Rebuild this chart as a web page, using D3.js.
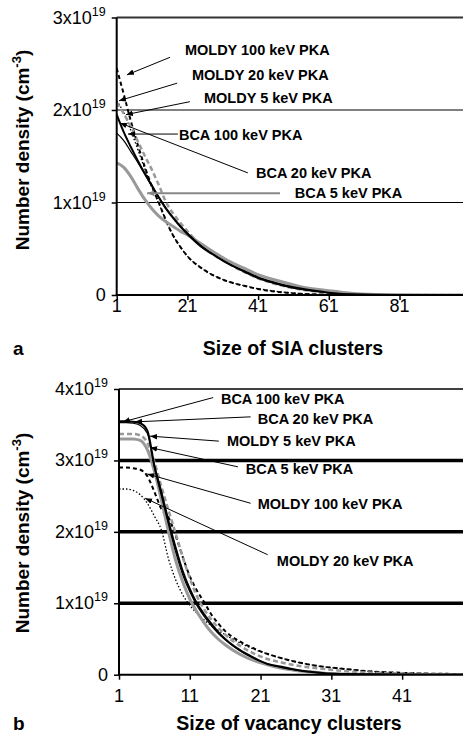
<!DOCTYPE html>
<html>
<head>
<meta charset="utf-8">
<script src="https://cdn.jsdelivr.net/npm/d3@7"></script>
<style>
  body { margin: 0; background: #fff; }
  svg { display: block; font-family: "Liberation Sans", Arial, sans-serif; }
</style>
</head>
<body>
<svg width="463" height="736"></svg>
<script>
// ---- panel a : SIA clusters (values in units of 1e19 cm^-3)
var sizeA = [1,3,5,7,9,11,13,15,17,19,21,25,29,33,37,41,45,49,53,57,61,65,70,80,90,99];
var moldy100A = [2.45,2.17,1.88,1.62,1.38,1.17,0.99,0.8,0.64,0.52,0.42,0.29,0.2,0.14,0.1,0.065,0.04,0.025,0.013,0.007,0.004,0.002,0.001,0,0,0];
var moldy20A  = [2.1,1.97,1.78,1.57,1.36,1.16,0.98,0.8,0.64,0.52,0.42,0.29,0.2,0.14,0.1,0.068,0.045,0.028,0.015,0.008,0.004,0.002,0.001,0,0,0];
var moldy5A   = [2.08,1.96,1.82,1.66,1.5,1.35,1.18,1.0,0.88,0.78,0.69,0.53,0.42,0.33,0.25,0.18,0.13,0.09,0.06,0.04,0.022,0.012,0.005,0.001,0,0];
var bca100A   = [1.95,1.76,1.6,1.45,1.31,1.18,1.05,0.93,0.83,0.74,0.66,0.52,0.42,0.33,0.26,0.19,0.14,0.1,0.07,0.045,0.025,0.012,0.005,0.001,0,0];
var bca20A    = [1.75,1.67,1.55,1.43,1.3,1.17,1.05,0.94,0.84,0.75,0.67,0.53,0.42,0.33,0.25,0.18,0.13,0.09,0.06,0.038,0.022,0.012,0.006,0.001,0,0];
var bca5A     = [1.43,1.38,1.28,1.15,1.03,0.93,0.85,0.79,0.74,0.69,0.65,0.55,0.45,0.36,0.29,0.22,0.17,0.13,0.09,0.065,0.045,0.028,0.012,0.002,0,0];
var xTicksA = [1,21,41,61,81];
var yTicksA = [0,1,2,3];

// ---- panel b : vacancy clusters
var sizeB = [1,2,3,4,5,6,7,8,9,10,11,12,13,14,15,16,18,20,22,24,26,28,30,33,36,40,45,50];
var bca100B   = [3.55,3.55,3.54,3.52,3.42,2.93,2.55,2.15,1.78,1.45,1.2,1.0,0.85,0.72,0.6,0.5,0.35,0.24,0.15,0.11,0.07,0.04,0.02,0.01,0.005,0.002,0,0];
var bca20B    = [3.53,3.53,3.52,3.49,3.38,2.9,2.5,2.1,1.72,1.4,1.16,0.97,0.82,0.69,0.58,0.49,0.34,0.23,0.15,0.1,0.065,0.038,0.02,0.01,0.005,0.002,0,0];
var moldy5B   = [3.37,3.37,3.37,3.35,3.25,2.98,2.63,2.3,1.98,1.65,1.35,1.1,0.92,0.78,0.66,0.56,0.41,0.3,0.22,0.17,0.13,0.1,0.08,0.05,0.03,0.02,0.01,0.005];
var bca5B     = [3.3,3.3,3.3,3.28,3.15,2.85,2.44,2.0,1.6,1.3,1.06,0.88,0.73,0.6,0.5,0.42,0.29,0.2,0.14,0.09,0.06,0.04,0.02,0.01,0.005,0,0,0];
var moldy100B = [2.9,2.9,2.89,2.87,2.78,2.56,2.32,2.2,1.95,1.65,1.38,1.18,1.02,0.85,0.72,0.61,0.47,0.37,0.29,0.23,0.18,0.14,0.11,0.08,0.05,0.03,0.015,0.01];
var moldy20B  = [2.6,2.6,2.58,2.52,2.4,2.22,2.02,1.62,1.33,1.12,0.97,0.86,0.77,0.69,0.62,0.56,0.45,0.36,0.29,0.23,0.18,0.14,0.11,0.08,0.05,0.03,0.015,0.01];
var xTicksB = [1,11,21,31,41];
var yTicksB = [0,1,2,3,4];

var names = ["MOLDY 100 keV PKA","MOLDY 20 keV PKA","MOLDY 5 keV PKA","BCA 100 keV PKA","BCA 20 keV PKA","BCA 5 keV PKA"];

// line look for each series
var look = {
  "MOLDY 100 keV PKA": {color:"#000", width:2,   dash:"4,3"},
  "MOLDY 20 keV PKA":  {color:"#000", width:1.3, dash:"1.5,2"},
  "MOLDY 5 keV PKA":   {color:"#999", width:2.5, dash:"5,3"},
  "BCA 100 keV PKA":   {color:"#000", width:2,   dash:null},
  "BCA 20 keV PKA":    {color:"#000", width:1.2, dash:null},
  "BCA 5 keV PKA":     {color:"#999", width:3,   dash:null}
};

// annotation: label pos, line start, arrow tip  (all in data units)
var notesA = [
  {t:"MOLDY 100 keV PKA", lx:20.3, ly:2.65, sx:16.1, sy:2.57, ex:3.9, ey:2.38},
  {t:"MOLDY 20 keV PKA",  lx:22.3, ly:2.38, sx:18.1, sy:2.29, ex:1.65, ey:2.10},
  {t:"MOLDY 5 keV PKA",   lx:25.7, ly:2.13, sx:21.7, sy:2.09, ex:3.6, ey:1.95},
  {t:"BCA 100 keV PKA",   lx:18.6, ly:1.73, sx:18.3, sy:1.74, ex:4.2, ey:1.74},
  {t:"BCA 20 keV PKA",    lx:40.4, ly:1.32, sx:38.1, sy:1.32, ex:1.9, ey:1.86},
  {t:"BCA 5 keV PKA",     lx:51.4, ly:1.10, sx:47.2, sy:1.10, ex:9.6, ey:1.10, gray:true}
];
var notesB = [
  {t:"BCA 100 keV PKA",   lx:15.4, ly:3.86, sx:14.3, sy:3.88, ex:1.56, ey:3.54},
  {t:"BCA 20 keV PKA",    lx:20.6, ly:3.58, sx:19.6, sy:3.61, ex:3.26, ey:3.54},
  {t:"MOLDY 5 keV PKA",   lx:16.25, ly:3.27, sx:15.1, sy:3.27, ex:5.4, ey:3.34},
  {t:"BCA 5 keV PKA",     lx:18.9, ly:2.88, sx:17.8, sy:2.91, ex:5.4, ey:3.18},
  {t:"MOLDY 100 keV PKA", lx:20.6, ly:2.39, sx:19.6, sy:2.40, ex:5.0, ey:2.81},
  {t:"MOLDY 20 keV PKA",  lx:23.3, ly:1.59, sx:22.0, sy:1.68, ex:4.7, ey:2.47}
];

var svg = d3.select("svg");
var defs = svg.append("defs");
["#000","#888"].forEach(function(c, i){
  defs.append("marker")
    .attr("id", "arr"+i)
    .attr("viewBox", "0 0 10 10")
    .attr("refX", 10).attr("refY", 5)
    .attr("markerWidth", 7).attr("markerHeight", 7)
    .attr("markerUnits", "userSpaceOnUse")
    .attr("orient", "auto")
    .append("path").attr("d", "M0,1L10,5L0,9Z").attr("fill", c);
});

function panel(cfg) {
  var x = d3.scaleLinear().domain(cfg.xDomain).range([cfg.left, cfg.right]);
  var y = d3.scaleLinear().domain([0, cfg.yMax]).range([cfg.bottom, cfg.top]);
  var g = svg.append("g");

  // grid lines
  cfg.yTicks.forEach(function(v){
    if (v == 0) return;
    g.append("line")
      .attr("x1", cfg.left).attr("x2", 463)
      .attr("y1", y(v)).attr("y2", y(v))
      .attr("stroke", v == cfg.yMax ? cfg.topColor : "#000")
      .attr("stroke-width", v == cfg.yMax ? cfg.topWidth : cfg.gridWidth);
  });

  // series
  var line = d3.line().curve(d3.curveMonotoneX)
    .x(function(d){ return x(d[0]); })
    .y(function(d){ return y(d[1]); });
  var clip = "clip" + cfg.id;
  defs.append("clipPath").attr("id", clip).append("rect")
    .attr("x", cfg.left).attr("y", cfg.top - 10)
    .attr("width", 463 - cfg.left).attr("height", cfg.bottom - cfg.top + 10);
  var order = [0,1,2,5,4,3];
  order.forEach(function(i){
    var n = names[i], s = look[n];
    var pts = cfg.sizes.map(function(v, k){ return [v, cfg.series[i][k]]; });
    g.append("path")
      .attr("clip-path", "url(#" + clip + ")")
      .attr("d", line(pts))
      .attr("fill", "none")
      .attr("stroke", s.color)
      .attr("stroke-width", s.width)
      .attr("stroke-dasharray", s.dash);
  });

  // axes
  var yAxis = d3.axisLeft(y).tickValues(cfg.yTicks).tickSize(5).tickFormat("");
  var ya = g.append("g").attr("transform", "translate(" + cfg.left + ",0)").call(yAxis);
  var xAxis = d3.axisBottom(x).tickValues(cfg.xTicks).tickSize(5).tickFormat("");
  var xa = g.append("g").attr("transform", "translate(0," + cfg.bottom + ")").call(xAxis);
  [ya, xa].forEach(function(a){
    a.select(".domain").remove();
    a.selectAll("line").attr("stroke", "#000").attr("stroke-width", 1.5);
  });
  g.append("line").attr("x1", cfg.left).attr("x2", cfg.left)
    .attr("y1", cfg.top).attr("y2", cfg.bottom + 1)
    .attr("stroke", "#000").attr("stroke-width", 2);
  g.append("line").attr("x1", cfg.left - 1).attr("x2", 463)
    .attr("y1", cfg.bottom).attr("y2", cfg.bottom)
    .attr("stroke", "#000").attr("stroke-width", 2);

  // y tick labels  (Nx10^19)
  cfg.yTicks.forEach(function(v){
    var t = g.append("text")
      .attr("x", cfg.left - 11).attr("y", y(v) + 6)
      .attr("text-anchor", "end")
      .attr("font-size", 18).attr("fill", "#000");
    if (v == 0) { t.text("0"); return; }
    t.append("tspan").text(v + "x10");
    t.append("tspan").attr("font-size", 12.5).attr("dy", -8).text("19");
  });
  // x tick labels
  cfg.xTicks.forEach(function(v){
    g.append("text")
      .attr("x", x(v)).attr("y", cfg.bottom + cfg.xLabOff)
      .attr("text-anchor", "middle")
      .attr("font-size", 18).attr("fill", "#000")
      .text(v);
  });

  // titles
  g.append("text")
    .attr("x", cfg.titleX).attr("y", cfg.titleY)
    .attr("text-anchor", "middle")
    .attr("font-size", 19.5).attr("font-weight", "bold")
    .text(cfg.title);
  g.append("text")
    .attr("x", 13).attr("y", cfg.titleY)
    .attr("font-size", 19).attr("font-weight", "bold")
    .text(cfg.letter);
  var yl = g.append("text")
    .attr("transform", "translate(29," + cfg.yLabY + ") rotate(-90)")
    .attr("text-anchor", "middle")
    .attr("font-size", 19).attr("font-weight", "bold");
  yl.append("tspan").text("Number density (cm");
  yl.append("tspan").attr("font-size", 13).attr("dy", -8).text("-3");
  yl.append("tspan").attr("dy", 8).text(")");

  // annotations
  cfg.notes.forEach(function(a){
    g.append("line")
      .attr("x1", x(a.sx)).attr("y1", y(a.sy))
      .attr("x2", x(a.ex)).attr("y2", y(a.ey))
      .attr("stroke", a.gray ? "#888" : "#000")
      .attr("stroke-width", a.gray ? 2 : 1)
      .attr("marker-end", "url(#arr" + (a.gray ? 1 : 0) + ")");
    g.append("text")
      .attr("x", x(a.lx)).attr("y", y(a.ly) + 5)
      .attr("font-size", 14.5).attr("font-weight", "bold")
      .text(a.t);
  });
}

panel({
  id: "a", left: 116.7, right: 463, top: 17.5, bottom: 295,
  xDomain: [1, 98.96], yMax: 3, yTicks: yTicksA, xTicks: xTicksA,
  gridWidth: 1, topWidth: 2, topColor: "#333",
  sizes: sizeA, series: [moldy100A, moldy20A, moldy5A, bca100A, bca20A, bca5A],
  notes: notesA, xLabOff: 17, title: "Size of SIA clusters", titleX: 293, titleY: 355,
  letter: "a", yLabY: 150
});
panel({
  id: "b", left: 119, right: 463, top: 389, bottom: 674.7,
  xDomain: [1, 49.6], yMax: 4, yTicks: yTicksB, xTicks: xTicksB,
  gridWidth: 3.5, topWidth: 1.5, topColor: "#000",
  sizes: sizeB, series: [moldy100B, moldy20B, moldy5B, bca100B, bca20B, bca5B],
  notes: notesB, xLabOff: 27, title: "Size of vacancy clusters", titleX: 289, titleY: 730,
  letter: "b", yLabY: 533
});
</script>
</body>
</html>
